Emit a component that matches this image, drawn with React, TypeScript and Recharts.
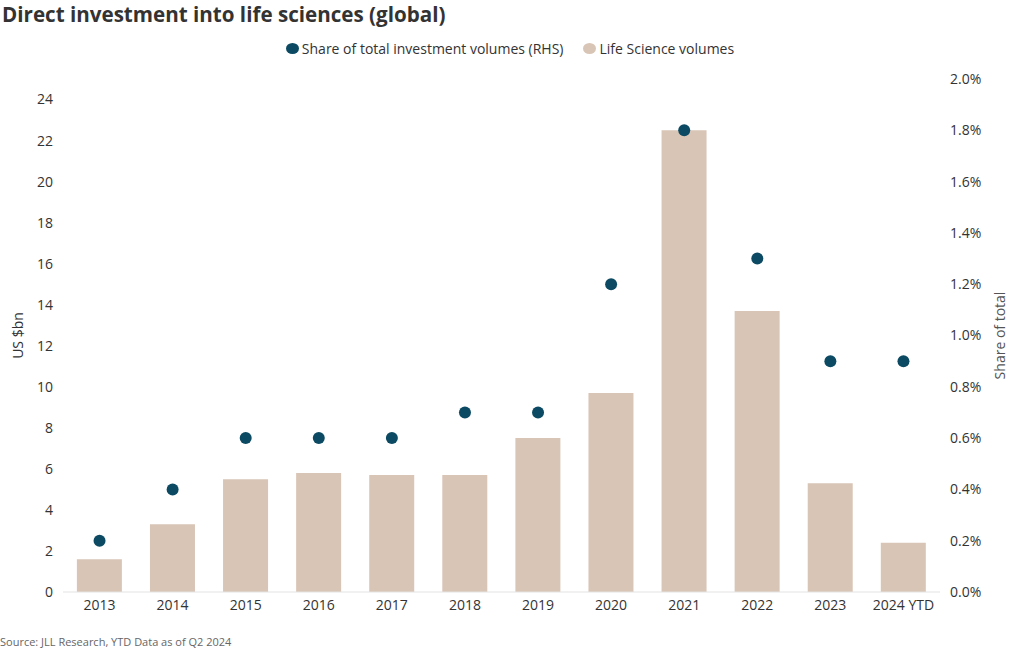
import React from 'react';
import { ComposedChart, Bar, Scatter, XAxis, YAxis, Legend } from 'recharts';

const years = ['2013', '2014', '2015', '2016', '2017', '2018', '2019', '2020', '2021', '2022', '2023', '2024 YTD'];
const volumes = [1.6, 3.3, 5.5, 5.8, 5.7, 5.7, 7.5, 9.7, 22.5, 13.7, 5.3, 2.4];
const shares = [0.2, 0.4, 0.6, 0.6, 0.6, 0.7, 0.7, 1.2, 1.8, 1.3, 0.9, 0.9];
const leftTicks = [0, 2, 4, 6, 8, 10, 12, 14, 16, 18, 20, 22, 24];
const rightTicks = [0, 0.2, 0.4, 0.6, 0.8, 1.0, 1.2, 1.4, 1.6, 1.8, 2.0];

const BAR_COLOR = '#d9c5b6';
const DOT_COLOR = '#0b4a62';
const FONT = '"Open Sans", sans-serif';

const data = years.map((year, i) => ({ year, volume: volumes[i], share: shares[i] }));

// legend shows the dots first
const LegendContent = (props: any) => {
  const items = [...(props.payload || [])].reverse();
  return (
    <div style={{ display: 'flex', justifyContent: 'center', gap: 20, fontFamily: FONT, fontSize: 14, color: '#333', height: 20 }}>
      {items.map((it: any) => (
        <div key={it.value} style={{ display: 'flex', alignItems: 'center', gap: 3 }}>
          <span style={{ width: 13, height: 11, borderRadius: '50%', background: it.color, display: 'inline-block' }} />
          <span>{it.value}</span>
        </div>
      ))}
    </div>
  );
};

const App = () => {
  const tick = { fill: '#333', fontSize: 14, fontFamily: FONT };
  return (
    <div style={{ position: 'fixed', left: 0, top: 0, width: 1020, height: 650, background: '#fff' }}>
      <div style={{ position: 'absolute', left: 2, top: 0, fontFamily: FONT, fontWeight: 700, fontSize: 20.6, color: '#333' }}>
        Direct investment into life sciences (global)
      </div>
      <ComposedChart width={1020} height={650} data={data} margin={{ top: 59, right: 0, bottom: 28, left: 0 }} barCategoryGap="19%">
        <XAxis dataKey="year" tick={tick} tickLine={false} axisLine={{ stroke: '#e3e3e3' }} height={30} interval={0} />
        <YAxis
          yAxisId="left"
          width={63}
          domain={[0, 25]}
          ticks={leftTicks}
          tick={tick}
          tickLine={false}
          axisLine={false}
          tickSize={0}
          tickMargin={10}
          label={{ value: 'US $bn', angle: -90, position: 'insideLeft', offset: 18, style: { fill: '#333', fontSize: 14, fontFamily: FONT, textAnchor: 'middle' } }}
        />
        <YAxis
          yAxisId="right"
          orientation="right"
          width={80}
          domain={[0, 2]}
          ticks={rightTicks}
          tickFormatter={(v: number) => `${v.toFixed(1)}%`}
          tick={tick}
          tickLine={false}
          axisLine={false}
          tickSize={0}
          tickMargin={10}
          label={{ value: 'Share of total', angle: -90, position: 'insideRight', offset: 20, style: { fill: '#555', fontSize: 14, fontFamily: FONT, textAnchor: 'middle' } }}
        />
        <Legend verticalAlign="top" content={<LegendContent />} wrapperStyle={{ top: 38 }} />
        <Bar yAxisId="left" dataKey="volume" name="Life Science volumes" fill={BAR_COLOR} isAnimationActive={false} />
        <Scatter
          yAxisId="right"
          dataKey="share"
          name="Share of total investment volumes (RHS)"
          fill={DOT_COLOR}
          isAnimationActive={false}
          shape={(p: any) => <circle cx={p.cx} cy={p.cy} r={6} fill={DOT_COLOR} />}
        />
      </ComposedChart>
      <div style={{ position: 'absolute', left: 0, top: 634, fontFamily: FONT, fontSize: 11, color: '#666' }}>
        Source: JLL Research, YTD Data as of Q2 2024
      </div>
    </div>
  );
};

export default App;
